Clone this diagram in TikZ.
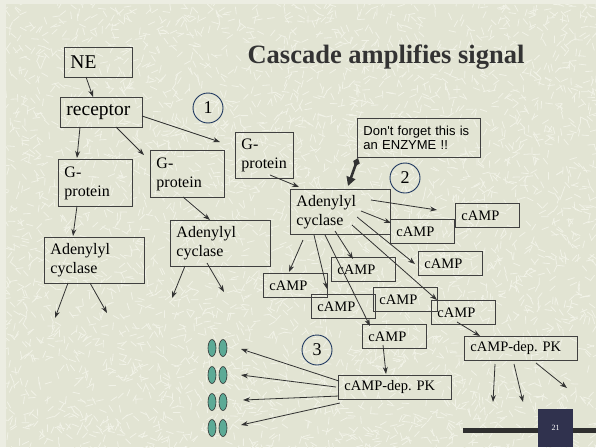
\documentclass[tikz,border=0pt]{standalone}
\usepackage{fontspec}
\setmainfont{Liberation Serif}
\newfontfamily\calloutfont{Liberation Sans}
\usetikzlibrary{arrows.meta}
\frenchspacing
\definecolor{bgc}{RGB}{226,228,211}
\definecolor{texc}{RGB}{241,242,231}
\definecolor{edgec}{RGB}{236,237,226}
\definecolor{lnc}{RGB}{64,64,64}
\definecolor{arc}{RGB}{50,50,50}
\definecolor{circc}{RGB}{30,55,95}
\definecolor{ovalc}{RGB}{92,170,150}
\definecolor{titlec}{RGB}{51,51,51}
\definecolor{footc}{RGB}{47,47,47}
\definecolor{navyc}{RGB}{48,50,78}
\newcommand\mybox[8]{\node[#1, minimum width=#5pt, minimum height=#6pt, text width=#7pt] (#2) at (#3,#4) {#8};}
\begin{document}
\begin{tikzpicture}[x=1pt,y=-1pt,
  box/.style={draw=lnc, line width=0.9pt, anchor=north west, inner xsep=6pt, inner ysep=0pt, align=left, text=black},
  bigbox/.style={box, font=\fontsize{19.5}{22}\selectfont},
  midbox/.style={box, font=\fontsize{16}{19}\selectfont},
  smbox/.style={box, font=\fontsize{14.5}{16}\selectfont},
  callbox/.style={box, font=\calloutfont\fontsize{13}{14.5}\selectfont},
  arr/.style={draw=arc, line width=0.8pt, -{Stealth[length=7pt,width=5pt]}},
  num/.style={circle, draw=circc, line width=0.9pt, minimum size=30pt, inner sep=0pt, font=\fontsize{18}{18}\selectfont},
  oval/.style={fill=ovalc, draw=arc, line width=0.6pt},
  texstroke/.style={draw=texc, line width=0.8pt, line cap=round}]
\useasboundingbox (0,0) rectangle (596,447);
\fill[bgc] (0,0) rectangle (596,447);
\begin{scope}
\clip (6,4) rectangle (596,447);
\pgfmathsetseed{12}
\foreach \i in {1,...,4200}{
  \pgfmathsetmacro\xa{rnd*604}
  \pgfmathsetmacro\ya{rnd*455}
  \pgfmathsetmacro\an{rnd*360}
  \draw[texstroke] (\xa,\ya) -- ++(\an:7);
}
\end{scope}
\fill[edgec] (0,0) rectangle (6,447);
\fill[edgec] (0,0) rectangle (596,4);

% title
\node[font=\bfseries\fontsize{26.5}{30}\selectfont, text=titlec, anchor=base] (title) at (386,63) {Cascade amplifies signal};

% boxes
\mybox{bigbox}{NE}{64}{47}{68}{30}{56}{NE}
\mybox{bigbox}{receptor}{60}{97}{82}{30}{70}{receptor}
\mybox{midbox}{gp1}{58}{159}{74}{47}{62}{G-\\protein}
\mybox{midbox}{gp2}{150}{150}{74}{47}{62}{G-\\protein}
\mybox{midbox}{gp3}{235}{132}{58}{46}{46}{G-\\protein}
\mybox{midbox}{AC1}{44}{237}{100}{46}{88}{Adenylyl\\cyclase}
\mybox{midbox}{AC2}{170}{220}{100}{46}{88}{Adenylyl\\cyclase}
\mybox{midbox}{AC3}{290}{189}{100}{45}{88}{Adenylyl\\cyclase}
\mybox{callbox}{note}{357}{118}{123}{39}{111}{Don't forget this is\\an ENZYME !!}
\mybox{smbox}{c1}{455}{203}{64}{24}{52}{cAMP}
\mybox{smbox}{c2}{390}{219}{64}{24}{52}{cAMP}
\mybox{smbox}{c3}{418}{251}{64}{24}{52}{cAMP}
\mybox{smbox}{c4}{331}{257}{64}{24}{52}{cAMP}
\mybox{smbox}{c5}{263}{273}{64}{24}{52}{cAMP}
\mybox{smbox}{c6}{311}{294}{64}{24}{52}{cAMP}
\mybox{smbox}{c7}{373}{287}{64}{24}{52}{cAMP}
\mybox{smbox}{c8}{431}{300}{64}{24}{52}{cAMP}
\mybox{smbox}{c9}{362}{324}{64}{24}{52}{cAMP}
\mybox{smbox}{PK1}{464}{336}{113}{24}{101}{cAMP-dep. PK}
\mybox{smbox}{PK2}{338}{375}{113}{24}{101}{cAMP-dep. PK}

% numbered circles
\node[num] (n1) at (208,108) {1};
\node[num] (n2) at (405,178) {2};
\node[num] (n3) at (317,350) {3};

% arrows
\draw[arr] ([shift={(22,30)}]NE.north west) -- ([shift={(33,0)}]receptor.north west);
\draw[arr] ([shift={(20,30)}]receptor.north west) -- ([shift={(19,-1)}]gp1.north west);
\draw[arr] ([shift={(56,30)}]receptor.north west) -- ([shift={(-6,5)}]gp2.north west);
\draw[arr] ([shift={(82,19)}]receptor.north west) -- ([shift={(-15,10)}]gp3.north west);
\draw[arr] ([shift={(19,47)}]gp1.north west) -- ([shift={(29,-1)}]AC1.north west);
\draw[arr] ([shift={(33,47)}]gp2.north west) -- ([shift={(40,0)}]AC2.north west);
\draw[arr] ([shift={(35,43)}]gp3.north west) -- ([shift={(9,-2)}]AC3.north west);
% AC1, AC2 outputs
\draw[arr] ([shift={(24,46)}]AC1.north west) -- ([shift={(11,81)}]AC1.north west);
\draw[arr] ([shift={(46,46)}]AC1.north west) -- ([shift={(63,76)}]AC1.north west);
\draw[arr] ([shift={(15,46)}]AC2.north west) -- ([shift={(2,78)}]AC2.north west);
\draw[arr] ([shift={(37,43)}]AC2.north west) -- ([shift={(54,72)}]AC2.north west);
% AC3 outputs
\draw[arr] ([shift={(81,11)}]AC3.north west) -- ([shift={(-18,7)}]c1.north west);
\draw[arr] ([shift={(71,22)}]AC3.north west) -- ([shift={(1,4)}]c2.north west);
\draw[arr] ([shift={(67,28)}]AC3.north west) -- ([shift={(-3,13)}]c3.north west);
\draw[arr] ([shift={(62,36)}]AC3.north west) -- ([shift={(6,0)}]c8.north west);
\draw[arr] ([shift={(45,42)}]AC3.north west) -- ([shift={(22,2)}]c4.north west);
\draw[arr] ([shift={(35,46)}]AC3.north west) -- ([shift={(8,2)}]c9.north west);
\draw[arr] ([shift={(24,46)}]AC3.north west) -- ([shift={(16,-5)}]c6.north west);
\draw[arr] ([shift={(13,51)}]AC3.north west) -- ([shift={(26,-1)}]c5.north west);
% cAMP to PK
\draw[arr] ([shift={(26,22)}]c8.north west) -- ([shift={(16,0)}]PK1.north west);
\draw[arr] ([shift={(21,21)}]c9.north west) -- ([shift={(48,-1)}]PK2.north west);
% PK1 outputs
\draw[arr] ([shift={(31,28)}]PK1.north west) -- ([shift={(29,66)}]PK1.north west);
\draw[arr] ([shift={(50,28)}]PK1.north west) -- ([shift={(59,66)}]PK1.north west);
\draw[arr] ([shift={(72,27)}]PK1.north west) -- ([shift={(103,52)}]PK1.north west);
% PK2 outputs
\draw[arr] ([shift={(1,6)}]PK2.north west) -- ([shift={(-97,-26)}]PK2.north west);
\draw[arr] ([shift={(-2,12)}]PK2.north west) -- ([shift={(-97,0)}]PK2.north west);
\draw[arr] ([shift={(1,21)}]PK2.north west) -- ([shift={(-95,25)}]PK2.north west);
\draw[arr] ([shift={(2,28)}]PK2.north west) -- ([shift={(-97,50)}]PK2.north west);
% callout pointer
\draw[draw=arc, line width=2.6pt, {Diamond[length=9pt,width=7pt]}-{Triangle[length=9pt,width=9pt]}] ([shift={(1,40)}]note.north west) -- ([shift={(58,-3)}]AC3.north west);

% ovals
\foreach \yy in {348,375,402,428}{
  \draw[oval] (212,\yy) ellipse (4pt and 8.5pt);
  \draw[oval] (223,\yy) ellipse (4pt and 8.5pt);
}

% footer
\fill[footc] (463,428) rectangle (596,433);
\node[fill=navyc, minimum width=35pt, minimum height=38pt, anchor=north west, inner sep=0pt, font=\fontsize{8}{9}\selectfont, text=white] (pg) at (538,409) {21};
\end{tikzpicture}
\end{document}
